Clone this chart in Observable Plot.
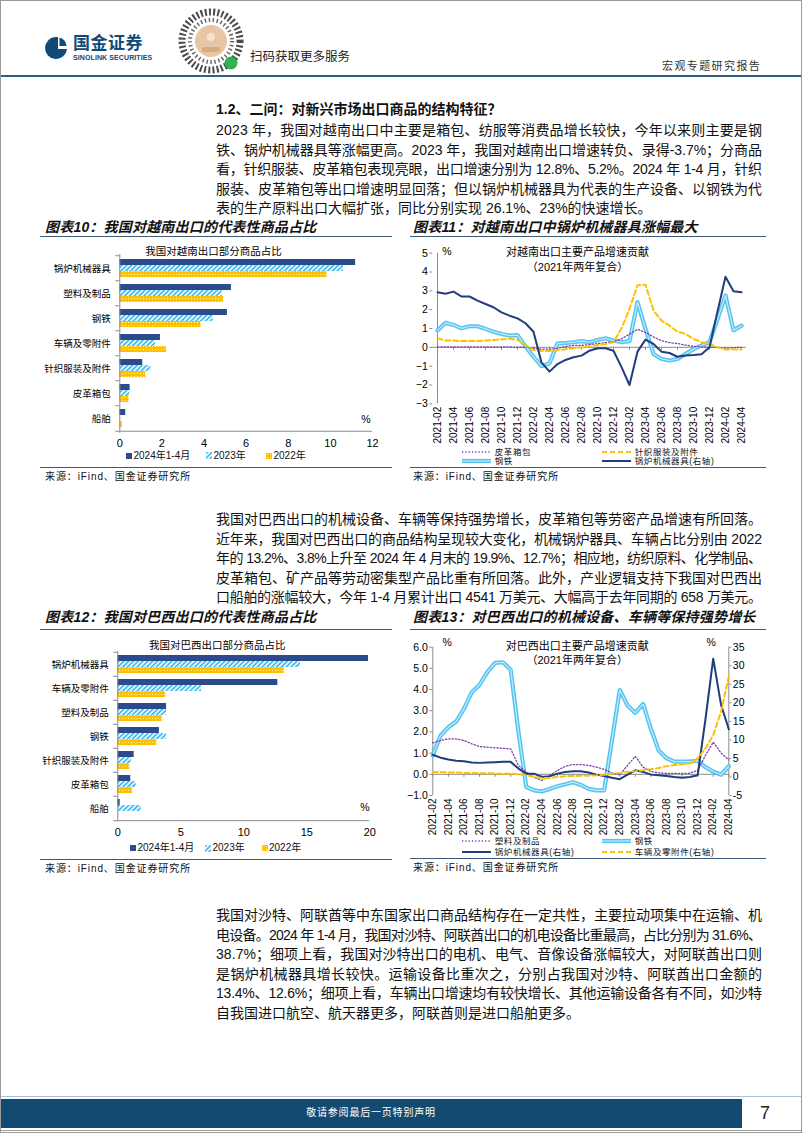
<!DOCTYPE html>
<html lang="zh-CN">
<head>
<meta charset="utf-8">
<title>宏观专题研究报告</title>
<script src="https://cdn.jsdelivr.net/npm/d3@7"></script>
<script src="https://cdn.jsdelivr.net/npm/@observablehq/plot@0.6"></script>
<style>
html,body{margin:0;padding:0;background:#fff;}
#page{position:relative;width:802px;height:1133px;overflow:hidden;background:#fff;font-family:"Liberation Sans","Noto Sans CJK SC",sans-serif;color:#111;}
.a{position:absolute;}
.jl{position:absolute;left:216px;height:20px;line-height:20px;font-size:14px;white-space:nowrap;color:#111;}
.hd{position:absolute;left:216px;font-size:14px;font-weight:700;line-height:20px;white-space:nowrap;}
.ct{position:absolute;font-size:14px;font-weight:700;font-style:italic;white-space:nowrap;letter-spacing:0.2px;line-height:18px;}
.rule{position:absolute;height:0;border-top:1.5px solid #3c5a78;}
.src{position:absolute;font-size:10px;letter-spacing:0.9px;white-space:nowrap;line-height:12px;}
.lg{position:absolute;font-size:10px;white-space:nowrap;line-height:12px;display:flex;align-items:center;}
.lgl{position:absolute;font-size:8.5px;letter-spacing:0.6px;white-space:nowrap;line-height:10px;display:flex;align-items:center;}
.chart{position:absolute;}
.chart svg{display:block;}
</style>
</head>
<body>
<svg width="0" height="0" style="position:absolute">
  <defs>
    <pattern id="hatch" patternUnits="userSpaceOnUse" width="3.4" height="3.4" patternTransform="rotate(45)">
      <rect width="3.4" height="3.4" fill="#ffffff"/>
      <rect width="1.9" height="3.4" fill="#45bff0"/>
    </pattern>
    <pattern id="dots" patternUnits="userSpaceOnUse" width="3" height="3">
      <rect width="3" height="3" fill="#ffc000"/>
      <rect x="1" y="1" width="1" height="1" fill="#fff3c4"/>
    </pattern>
  </defs>
</svg>
<div id="page">
  <!-- header -->
  <svg class="a" style="left:44px;top:35px" width="24" height="26" viewBox="0 0 24 26">
    <path d="M12 2 A11 11 0 1 0 23 14 L14 14 L14 2 Z" fill="#114a76"/>
    <path d="M15.5 2.5 A10 10 0 0 1 22.5 11 L15.5 11 Z" fill="#114a76"/>
  </svg>
  <div class="a" style="left:73px;top:34px;font-size:17px;font-weight:700;color:#114a76;letter-spacing:0.5px;line-height:20px;">国金证券</div>
  <div class="a" style="left:73px;top:54px;font-size:7px;font-weight:700;color:#114a76;line-height:8px;letter-spacing:0.1px;">SINOLINK SECURITIES</div>
  <svg class="a" style="left:177px;top:7px" width="68" height="68" viewBox="0 0 68 68">
    <circle cx="34" cy="34" r="29" fill="none" stroke="#2b2b2b" stroke-width="7" stroke-dasharray="2 2.2" opacity="0.85"/>
    <circle cx="34" cy="34" r="21" fill="none" stroke="#3a3a3a" stroke-width="4" stroke-dasharray="1.4 2.6" opacity="0.8"/>
    <circle cx="34" cy="34" r="16" fill="#e8c6a4"/>
    <circle cx="34" cy="30" r="4" fill="#f6e3cf"/>
    <rect x="25" y="40" width="18" height="5" rx="2" fill="#d9a97f"/>
    <circle cx="54" cy="56" r="6.5" fill="#2fb14d"/>
  </svg>
  <div class="a" style="left:250px;top:49px;font-size:12.5px;line-height:16px;color:#222;">扫码获取更多服务</div>
  <div class="a" style="left:662px;top:59px;font-size:11px;line-height:14px;letter-spacing:1.4px;color:#333;">宏观专题研究报告</div>
  <div class="a" style="left:0;top:75px;width:802px;height:2px;background:#2e5e8a;"></div>

  <!-- section 1 -->
  <div class="hd" style="top:99px;">1.2、二问：对新兴市场出口商品的结构特征？</div>
  <div class="jl j" style="top:120px;">2023 年，我国对越南出口中主要是箱包、纺服等消费品增长较快，今年以来则主要是钢</div>
  <div class="jl j" style="top:139.6px;">铁、锅炉机械器具等涨幅更高。2023 年，我国对越南出口增速转负、录得-3.7%；分商品</div>
  <div class="jl j" style="top:159.2px;">看，针织服装、皮革箱包表现亮眼，出口增速分别为 12.8%、5.2%。2024 年 1-4 月，针织</div>
  <div class="jl j" style="top:178.8px;">服装、皮革箱包等出口增速明显回落；但以锅炉机械器具为代表的生产设备、以钢铁为代</div>
  <div class="jl" style="top:198.4px;">表的生产原料出口大幅扩张，同比分别实现 26.1%、23%的快速增长。</div>

  <!-- chart 10 / 11 frames -->
  <div class="ct" style="left:45px;top:218px;">图表10：我国对越南出口的代表性商品占比</div>
  <div class="ct" style="left:413px;top:218px;">图表11：对越南出口中锅炉机械器具涨幅最大</div>
  <div class="rule" style="left:40px;top:236px;width:352px;"></div>
  <div class="rule" style="left:410px;top:236px;width:356px;"></div>
  <div id="c10" class="chart" style="left:40px;top:240px;width:352px;height:222px;"></div>
  <div id="c11" class="chart" style="left:400px;top:240px;width:380px;height:205px;"></div>
  <div class="rule" style="left:40px;top:467px;width:352px;"></div>
  <div class="rule" style="left:410px;top:467px;width:356px;"></div>
  <div class="src" style="left:45px;top:471px;">来源：iFind、国金证券研究所</div>
  <div class="src" style="left:413px;top:471px;">来源：iFind、国金证券研究所</div>

  <!-- section 2 -->
  <div class="jl j" style="top:509px;">我国对巴西出口的机械设备、车辆等保持强势增长，皮革箱包等劳密产品增速有所回落。</div>
  <div class="jl j" style="top:528.6px;">近年来，我国对巴西出口的商品结构呈现较大变化，机械锅炉器具、车辆占比分别由 2022</div>
  <div class="jl j" style="top:548.2px;">年的 13.2%、3.8%上升至 2024 年 4 月末的 19.9%、12.7%；相应地，纺织原料、化学制品、</div>
  <div class="jl j" style="top:567.8px;">皮革箱包、矿产品等劳动密集型产品比重有所回落。此外，产业逻辑支持下我国对巴西出</div>
  <div class="jl j" style="top:587.4px;">口船舶的涨幅较大，今年 1-4 月累计出口 4541 万美元、大幅高于去年同期的 658 万美元。</div>

  <!-- chart 12 / 13 frames -->
  <div class="ct" style="left:45px;top:608px;">图表12：我国对巴西出口的代表性商品占比</div>
  <div class="ct" style="left:413px;top:608px;">图表13：对巴西出口的机械设备、车辆等保持强势增长</div>
  <div class="rule" style="left:40px;top:629px;width:352px;"></div>
  <div class="rule" style="left:410px;top:629px;width:356px;"></div>
  <div id="c12" class="chart" style="left:40px;top:633px;width:352px;height:218px;"></div>
  <div id="c13" class="chart" style="left:400px;top:632px;width:380px;height:205px;"></div>
  <div class="rule" style="left:40px;top:859px;width:352px;"></div>
  <div class="rule" style="left:410px;top:858px;width:356px;"></div>
  <div class="src" style="left:45px;top:863px;">来源：iFind、国金证券研究所</div>
  <div class="src" style="left:413px;top:862px;">来源：iFind、国金证券研究所</div>

  <!-- section 3 -->
  <div class="jl j" style="top:905px;">我国对沙特、阿联酋等中东国家出口商品结构存在一定共性，主要拉动项集中在运输、机</div>
  <div class="jl j" style="top:924.6px;">电设备。2024 年 1-4 月，我国对沙特、阿联酋出口的机电设备比重最高，占比分别为 31.6%、</div>
  <div class="jl j" style="top:944.2px;">38.7%；细项上看，我国对沙特出口的电机、电气、音像设备涨幅较大，对阿联酋出口则</div>
  <div class="jl j" style="top:963.8px;">是锅炉机械器具增长较快。运输设备比重次之，分别占我国对沙特、阿联酋出口金额的</div>
  <div class="jl j" style="top:983.4px;">13.4%、12.6%；细项上看，车辆出口增速均有较快增长、其他运输设备各有不同，如沙特</div>
  <div class="jl" style="top:1003px;">自我国进口航空、航天器更多，阿联酋则是进口船舶更多。</div>

  <!-- footer -->
  <div class="a" style="left:0;top:1096px;width:802px;height:1px;background:#a9c3da;"></div>
  <div class="a" style="left:0;top:1099px;width:742px;height:29px;background:#124a72;"></div>
  <div class="a" style="left:0;top:1106px;width:742px;text-align:center;font-size:10px;line-height:14px;color:#fff;letter-spacing:0.8px;">敬请参阅最后一页特别声明</div>
  <div class="a" style="left:760px;top:1102px;font-size:18px;line-height:22px;color:#222;">7</div>
  <div class="a" style="left:0;top:1130px;width:802px;height:1px;background:#9a9a9a;"></div>
  <div class="a" style="left:0;top:0;width:800px;height:1131px;border:1px solid #9a9a9a;pointer-events:none;"></div>
</div>

<script>
// ---------------- data ----------------
const vnCategories = ["锅炉机械器具","塑料及制品","钢铁","车辆及零附件","针织服装及附件","皮革箱包","船舶"];
const vnShare2024 = [11.2, 5.3, 5.11, 1.93, 1.09, 0.49, 0.28];
const vnShare2023 = [10.63, 4.86, 4.43, 1.69, 1.47, 0.47, 0.02];
const vnShare2022 = [9.84, 4.93, 3.86, 2.22, 1.23, 0.44, 0.11];
const vnShareTicks = [0, 2, 4, 6, 8, 10, 12];

const brCategories = ["锅炉机械器具","车辆及零附件","塑料及制品","钢铁","针织服装及附件","皮革箱包","船舶"];
const brShare2024 = [19.9, 12.7, 3.87, 3.3, 1.3, 1.03, 0.19];
const brShare2023 = [14.5, 6.64, 3.87, 3.87, 1.06, 1.46, 1.86];
const brShare2022 = [13.2, 3.8, 3.52, 3.1, 0.95, 1.17, 0.0];
const brShareTicks = [0, 5, 10, 15, 20];

const seriesLabels = ["2024年1-4月", "2023年", "2022年"];

const months = ["2021-02","2021-03","2021-04","2021-05","2021-06","2021-07","2021-08","2021-09","2021-10","2021-11","2021-12",
  "2022-01","2022-02","2022-03","2022-04","2022-05","2022-06","2022-07","2022-08","2022-09","2022-10","2022-11","2022-12",
  "2023-01","2023-02","2023-03","2023-04","2023-05","2023-06","2023-07","2023-08","2023-09","2023-10","2023-11","2023-12",
  "2024-01","2024-02","2024-03","2024-04"];
const monthTicks = ["2021-02","2021-04","2021-06","2021-08","2021-10","2021-12","2022-02","2022-04","2022-06","2022-08","2022-10","2022-12",
  "2023-02","2023-04","2023-06","2023-08","2023-10","2023-12","2024-02","2024-04"];

// 图表11 对越南出口主要产品增速贡献
const vnLeather = [0.02,0.02,0.02,0.02,0.02,0.02,0.02,0.02,0.02,0.02,0.01,0.0,-0.05,-0.1,-0.1,-0.05,0.05,0.1,0.1,0.15,0.2,0.25,0.3,0.45,0.7,0.95,0.8,0.55,0.35,0.25,0.2,0.12,0.05,0.02,0.0,0.0,-0.05,-0.02,0.0];
const vnKnit = [0.48,0.36,0.36,0.33,0.33,0.33,0.36,0.39,0.43,0.45,0.4,0.1,-0.15,-0.2,-0.2,-0.15,-0.1,-0.05,0,0.05,0.12,0.18,0.27,1.0,2.05,3.3,3.33,1.95,1.42,1.15,0.83,0.71,0.45,0.27,0.18,0,-0.12,-0.1,-0.12];
const vnSteel = [0.89,1.3,1.19,1.01,1.12,1.12,0.98,0.83,0.71,0.62,0.65,0.05,-0.5,-1.0,-0.85,0.2,0.23,0.27,0.33,0.27,0.39,0.48,0.36,0.27,0.33,2.4,0.98,-0.35,-0.62,-0.7,-0.62,-0.35,-0.1,0.1,0.27,1.5,2.75,0.9,1.15];
const vnBoiler = [2.93,2.85,2.96,2.7,2.7,2.48,2.3,2.13,1.86,1.68,1.54,1.28,0.83,-0.8,-1.29,-0.89,-0.67,-0.53,-0.44,-0.18,-0.05,-0.05,-0.18,-1.05,-2.0,-0.23,0.41,0.18,-0.23,-0.3,-0.5,-0.44,-0.41,-0.37,0.0,1.9,3.75,2.98,2.92];
const vnTicks = [-3,-2,-1,0,1,2,3,4,5];

// 图表13 对巴西出口主要产品增速贡献
const brPlastic = [1.48,1.6,1.67,1.67,1.6,1.44,1.31,1.28,1.25,1.23,1.2,0.42,0.1,-0.13,-0.29,-0.05,0.18,0.38,0.46,0.46,0.42,0.34,0.23,0.07,-0.03,0.42,0.85,0.34,0.13,0.07,0.05,0.04,0.04,0.05,0.18,0.89,1.52,1.01,0.68];
const brSteel = [0.89,1.83,2.22,2.49,3.09,3.87,4.22,4.82,5.26,5.29,4.94,2.0,-0.6,-0.76,-0.81,-0.69,-0.56,-0.47,-0.37,-0.5,-0.69,-0.76,-0.76,1.6,3.98,3.25,2.9,3.32,2.15,1.12,0.76,0.6,0.6,0.6,0.65,0.34,0.13,-0.02,0.38];
const brBoiler = [6.0,5.2,4.7,4.4,4.25,3.9,3.8,3.9,4.0,4.07,4.07,2.26,0.9,0.9,0,0.2,0.9,1.36,1.54,1.54,1.2,0.63,0.27,-0.2,-0.6,0.63,1.8,1.36,0.63,0.45,0.27,0,-0.2,0,0.45,15.5,31.9,19.5,12.85];
const brVehicle = [1.27,1.36,1.2,1.2,1.1,1.1,1.0,1.0,0.9,0.9,0.9,0.7,0.45,0,-0.27,-0.27,0,0.2,0.27,0.3,0.4,0.45,0.6,0.9,1.1,1.36,1.54,1.8,2.1,2.4,2.9,3.2,3.4,3.6,5.0,7.7,11.3,17.6,27.1];
const brLeftTicks = [-1,0,1,2,3,4,5,6];
const brRightTicks = [-5,0,5,10,15,20,25,30,35];

// ---------------- style ----------------
const FONT = '"Liberation Sans","Noto Sans CJK SC",sans-serif';
const AX = "#8c8c8c";
const C_DARK = "#2c4b8c", C_LINE_DARK = "#203d7c", C_YEL = "#ffc000", C_PUR = "#7b3fb0", C_SKY = "#55c4f0", C_SKY_IN = "#c4ebfb";
const baseStyle = () => ({fontFamily: FONT, fontSize: "10px", color: "#000", background: "transparent", overflow: "visible", maxWidth: "none"});

function barChart({cats, a, b, c, xmax, xticks, width, height, mt, mr, mb, ml, title, tdx, tdy, pdx, pdy}) {
  const rows = vals => cats.map((cat, i) => ({cat, v: vals[i]}));
  const n = cats.length;
  const step = (height - mt - mb) / n;
  const bw = 6;
  const pi = 1 - bw / step;
  const last = cats[n - 1];
  return Plot.plot({
    width, height, marginTop: mt, marginRight: mr, marginBottom: mb, marginLeft: ml,
    style: baseStyle(),
    x: {domain: [0, xmax]},
    y: {domain: cats, paddingInner: pi, paddingOuter: pi / 2},
    marks: [
      Plot.barX(rows(a), {x: "v", y: "cat", fill: C_DARK, dy: -bw}),
      Plot.barX(rows(b), {x: "v", y: "cat", fill: "url(#hatch)", dy: 0}),
      Plot.barX(rows(c), {x: "v", y: "cat", fill: "url(#dots)", dy: bw}),
      Plot.ruleX([0], {stroke: AX}),
      Plot.ruleY([last], {x1: 0, x2: xmax, dy: step / 2, stroke: AX}),
      Plot.ruleY(cats, {x1: 0, x2: 0, insetLeft: -4, dy: -step / 2, stroke: AX}),
      Plot.ruleY([last], {x1: 0, x2: 0, insetLeft: -4, dy: step / 2, stroke: AX}),
      Plot.axisX({ticks: xticks, tickSize: 0, tickPadding: 6, label: null, fontSize: 11}),
      Plot.axisY({tickSize: 0, tickPadding: 9, label: null, fontSize: 9.5}),
      Plot.text([title], {frameAnchor: "top", dx: tdx, dy: tdy, fontSize: 10.5}),
      Plot.text(["%"], {frameAnchor: "bottom-right", dx: pdx, dy: pdy, fontSize: 10.5})
    ]
  });
}

const rowsOf = (vals, f = v => v) => months.map((m, i) => ({m, v: f(vals[i])}));

function steelMarks(vals, f) {
  return [
    Plot.line(rowsOf(vals, f), {x: "m", y: "v", stroke: C_SKY, strokeWidth: 4.2}),
    Plot.line(rowsOf(vals, f), {x: "m", y: "v", stroke: C_SKY_IN, strokeWidth: 1.2})
  ];
}

// ---------------- chart 10 ----------------
document.getElementById("c10").append(barChart({
  cats: vnCategories, a: vnShare2024, b: vnShare2023, c: vnShare2022, xmax: 12, xticks: vnShareTicks,
  width: 352, height: 222, mt: 14, mr: 20, mb: 29.3, ml: 79.3,
  title: "我国对越南出口部分商品占比", tdx: -32.6, tdy: -7, pdx: -2, pdy: -10.7
}));

// ---------------- chart 12 ----------------
document.getElementById("c12").append(barChart({
  cats: brCategories, a: brShare2024, b: brShare2023, c: brShare2022, xmax: 20, xticks: brShareTicks,
  width: 352, height: 218, mt: 18, mr: 22.7, mb: 29.7, ml: 77.3,
  title: "我国对巴西出口部分商品占比", tdx: -26.6, tdy: -10.3, pdx: -0.3, pdy: -10.6
}));

// ---------------- chart 11 ----------------
document.getElementById("c11").append(Plot.plot({
  width: 380, height: 205, marginLeft: 32.3, marginRight: 34.3, marginTop: 12.7, marginBottom: 41.7,
  style: baseStyle(),
  x: {type: "point", domain: months, padding: 0},
  y: {domain: [-3, 5]},
  marks: [
    Plot.ruleX([months[0]], {stroke: AX}),
    Plot.ruleY([0], {stroke: AX}),
    Plot.ruleX(monthTicks, {y1: 0, y2: 0, insetBottom: -3, stroke: AX}),
    Plot.axisY({ticks: vnTicks, tickSize: 3, tickPadding: 2, label: null, stroke: AX, fontSize: 10.5}),
    Plot.axisX({ticks: monthTicks, tickRotate: -90, tickSize: 0, tickPadding: 3, label: null, fontSize: 10}),
    ...steelMarks(vnSteel),
    Plot.line(rowsOf(vnLeather), {x: "m", y: "v", stroke: C_PUR, strokeWidth: 1.3, strokeDasharray: "1.3 2"}),
    Plot.line(rowsOf(vnKnit), {x: "m", y: "v", stroke: C_YEL, strokeWidth: 2, strokeDasharray: "5 3"}),
    Plot.line(rowsOf(vnBoiler), {x: "m", y: "v", stroke: C_LINE_DARK, strokeWidth: 2}),
    Plot.text(["对越南出口主要产品增速贡献"], {frameAnchor: "top", dx: -12, dy: -4.7, fontSize: 11}),
    Plot.text(["（2021年两年复合）"], {frameAnchor: "top", dx: -12, dy: 10, fontSize: 11}),
    Plot.text(["%"], {frameAnchor: "top-left", dx: 9.4, dy: -5.7, fontSize: 10.5})
  ]
}));

// ---------------- chart 13 ----------------
const brL = [-1, 6], brR = [-5, 35];
const toLeft = r => brL[0] + (r - brR[0]) * (brL[1] - brL[0]) / (brR[1] - brR[0]);
const fromLeft = l => brR[0] + (l - brL[0]) * (brR[1] - brR[0]) / (brL[1] - brL[0]);
document.getElementById("c13").append(Plot.plot({
  width: 380, height: 205, marginLeft: 32.3, marginRight: 51.7, marginTop: 14.7, marginBottom: 42,
  style: baseStyle(),
  x: {type: "point", domain: months, padding: 0},
  y: {domain: brL},
  marks: [
    Plot.ruleX([months[0], months[months.length - 1]], {stroke: AX}),
    Plot.ruleY([0], {stroke: AX}),
    Plot.ruleX(monthTicks, {y1: 0, y2: 0, insetBottom: -3, stroke: AX}),
    Plot.axisY({ticks: brLeftTicks, tickSize: 3, tickPadding: 2, label: null, stroke: AX, fontSize: 10.5}),
    Plot.axisY({anchor: "right", ticks: brRightTicks.map(toLeft), tickFormat: v => String(Math.round(fromLeft(v))), tickSize: 2, tickPadding: 2, label: null, stroke: AX, fontSize: 10.5}),
    Plot.axisX({ticks: monthTicks, tickRotate: -90, tickSize: 0, tickPadding: 3, label: null, fontSize: 10}),
    ...steelMarks(brSteel),
    Plot.line(rowsOf(brPlastic), {x: "m", y: "v", stroke: C_PUR, strokeWidth: 1.3, strokeDasharray: "1.3 2"}),
    Plot.line(rowsOf(brBoiler, toLeft), {x: "m", y: "v", stroke: C_LINE_DARK, strokeWidth: 2}),
    Plot.line(rowsOf(brVehicle, toLeft), {x: "m", y: "v", stroke: C_YEL, strokeWidth: 2, strokeDasharray: "5 3"}),
    Plot.text(["对巴西出口主要产品增速贡献"], {frameAnchor: "top", dx: -3.6, dy: -5, fontSize: 11}),
    Plot.text(["（2021年两年复合）"], {frameAnchor: "top", dx: -3.6, dy: 9, fontSize: 11}),
    Plot.text(["%"], {frameAnchor: "top-left", dx: 9.7, dy: -8.7, fontSize: 10.5}),
    Plot.text(["%"], {frameAnchor: "top-right", dx: -13, dy: -8.7, fontSize: 10.5})
  ]
}));

// ---------------- legends ----------------
const page = document.getElementById("page");
function swatch(kind) {
  if (kind === "bar") return `<svg width="6" height="6"><rect width="6" height="6" fill="${C_DARK}"/></svg>`;
  if (kind === "hatch") return `<svg width="6" height="7"><rect width="6" height="7" fill="url(#hatch)"/></svg>`;
  if (kind === "dots") return `<svg width="6" height="6"><rect width="6" height="6" fill="url(#dots)"/></svg>`;
  if (kind === "dotted") return `<svg width="29" height="6"><line x1="0" x2="29" y1="3" y2="3" stroke="${C_PUR}" stroke-width="1.3" stroke-dasharray="1.3 2"/></svg>`;
  if (kind === "dashed") return `<svg width="29" height="6"><line x1="0" x2="29" y1="3" y2="3" stroke="${C_YEL}" stroke-width="2" stroke-dasharray="5 3"/></svg>`;
  if (kind === "steel") return `<svg width="29" height="6"><line x1="0" x2="29" y1="3" y2="3" stroke="${C_SKY}" stroke-width="4.2"/><line x1="0" x2="29" y1="3" y2="3" stroke="${C_SKY_IN}" stroke-width="1.2"/></svg>`;
  if (kind === "dark") return `<svg width="29" height="6"><line x1="0" x2="29" y1="3" y2="3" stroke="${C_LINE_DARK}" stroke-width="2"/></svg>`;
}
function legendItem(cls, left, cy, kind, label, gap, lh) {
  const d = document.createElement("div");
  d.className = cls;
  d.style.left = left + "px";
  d.style.top = (cy - lh / 2) + "px";
  d.innerHTML = swatch(kind) + `<span style="margin-left:${gap}px">${label}</span>`;
  page.append(d);
}
// chart 10 legend
legendItem("lg", 126, 455.7, "bar", seriesLabels[0], 1.5, 12);
legendItem("lg", 206, 455.7, "hatch", seriesLabels[1], 1.5, 12);
legendItem("lg", 266, 455.7, "dots", seriesLabels[2], 1.5, 12);
// chart 12 legend
legendItem("lg", 130, 848.3, "bar", seriesLabels[0], 1.5, 12);
legendItem("lg", 205, 848.3, "hatch", seriesLabels[1], 1.5, 12);
legendItem("lg", 261.5, 848.3, "dots", seriesLabels[2], 1.5, 12);
// chart 11 legend
legendItem("lgl", 461.7, 452.3, "dotted", "皮革箱包", 4, 10);
legendItem("lgl", 601.7, 452.3, "dashed", "针织服装及附件", 4, 10);
legendItem("lgl", 461.7, 460.9, "steel", "钢铁", 4, 10);
legendItem("lgl", 601.7, 460.9, "dark", "锅炉机械器具(右轴)", 4, 10);
// chart 13 legend
legendItem("lgl", 461.7, 840.7, "dotted", "塑料及制品", 4, 10);
legendItem("lgl", 601.7, 840.7, "steel", "钢铁", 4, 10);
legendItem("lgl", 461.7, 851.7, "dark", "锅炉机械器具(右轴)", 4, 10);
legendItem("lgl", 601.7, 851.7, "dashed", "车辆及零附件(右轴)", 4, 10);

// ---------------- justify body text lines ----------------
const TARGET = 546;
document.querySelectorAll(".jl.j").forEach(el => {
  el.style.display = "inline-block";
  const w = el.getBoundingClientRect().width;
  const n = el.textContent.length - 1;
  el.style.letterSpacing = ((TARGET - w) / n) + "px";
});
</script>
</body>
</html>
